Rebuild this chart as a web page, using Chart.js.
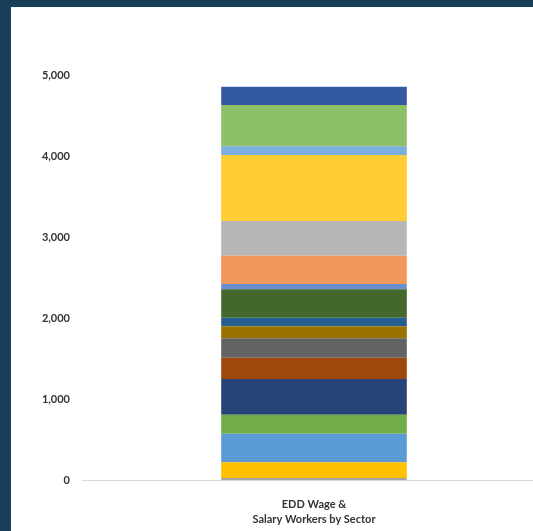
<!DOCTYPE html>
<html>
<head>
<meta charset="utf-8">
<script src="https://cdn.jsdelivr.net/npm/chart.js@4"></script>
<style>
  html, body { margin: 0; padding: 0; background: #173d59; }
  body { width: 533px; height: 531px; overflow: hidden; position: relative; }
  #panel { position: absolute; left: 11px; top: 7px; width: 522px; height: 524px; background: #fff; overflow: hidden; }
  #wrap { position: absolute; left: 0; top: 0; width: 535px; height: 524px; }
</style>
</head>
<body>
<div id="panel"><div id="wrap"><canvas id="chart"></canvas></div></div>
<script>
const categories = [["EDD Wage &", "Salary Workers by Sector"]];

// stacked segments, bottom to top (thousands of workers)
const sectorValues = [25, 193, 354, 234, 441, 263, 239, 148, 107, 350, 66, 349, 429, 814, 108, 510, 226];

const sectorColors = [
  "#a5a5a5", "#ffc000", "#5b9bd5", "#70ad47", "#264478", "#9e480e",
  "#636363", "#997300", "#255e91", "#43682b", "#698ed0", "#f1975a",
  "#b7b7b7", "#ffcd33", "#7cafdd", "#8cc168", "#335aa1"
];

const yTicks = [0, 1000, 2000, 3000, 4000, 5000];

const tickFont = { family: "Lato, 'Open Sans', sans-serif", size: 11, weight: "bold" };

new Chart(document.getElementById("chart"), {
  type: "bar",
  data: {
    labels: categories,
    datasets: sectorValues.map((v, i) => ({
      label: "Sector " + (i + 1),
      data: [v],
      backgroundColor: sectorColors[i],
      borderWidth: 0,
      barPercentage: 0.4,
      categoryPercentage: 1.0,
    }))
  },
  options: {
    responsive: true,
    maintainAspectRatio: false,
    animation: false,
    layout: { padding: { top: 68, bottom: 0, left: 0, right: 0 } },
    plugins: { legend: { display: false }, tooltip: { enabled: false } },
    scales: {
      x: {
        stacked: true,
        grid: { display: false },
        border: { display: true, color: "#d9d9d9", width: 1 },
        ticks: { color: "#333333", font: { ...tickFont, lineHeight: 1.35 }, padding: 9, maxRotation: 0 },
        afterFit: s => { s.height = 51; }
      },
      y: {
        stacked: true,
        min: 0,
        max: 5000,
        afterBuildTicks: s => { s.ticks = yTicks.map(v => ({ value: v })); },
        grid: { display: false },
        border: { display: false },
        ticks: {
          color: "#333333",
          font: tickFont,
          padding: 4,
          callback: v => v.toLocaleString("en-US")
        },
        afterFit: s => { s.width = 71; }
      }
    }
  }
});
</script>
</body>
</html>
